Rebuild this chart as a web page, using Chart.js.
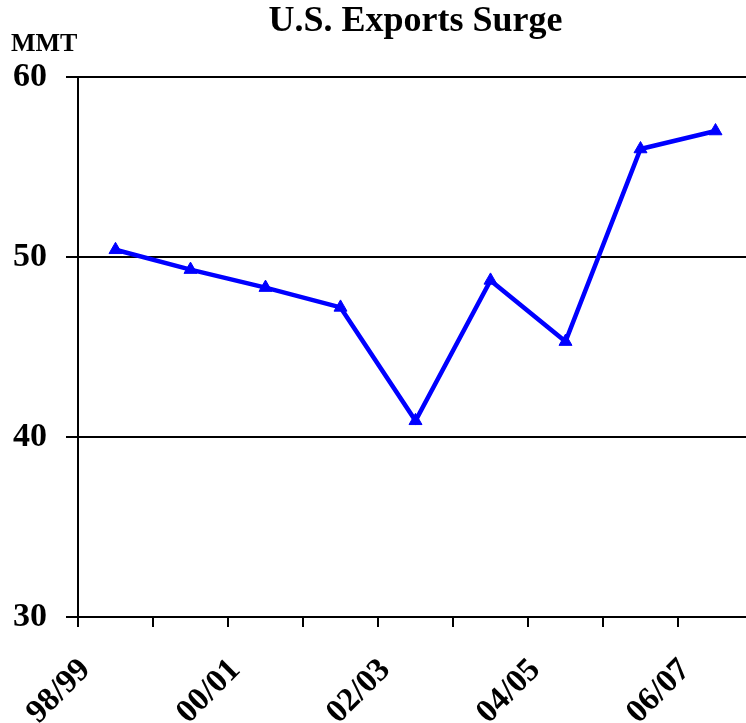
<!DOCTYPE html>
<html>
<head>
<meta charset="utf-8">
<script src="https://cdn.jsdelivr.net/npm/chart.js@4"></script>
<style>
  html, body { margin: 0; padding: 0; background: #fff; overflow: hidden; }
  #wrap { width: 770px; height: 723px; }
</style>
</head>
<body>
<div id="wrap"><canvas id="exports_chart" width="770" height="723"></canvas></div>
<script>
const years = ["98/99", "99/00", "00/01", "01/02", "02/03", "03/04", "04/05", "05/06", "06/07"];
const exportsMmt = [50.4, 49.3, 48.3, 47.2, 40.9, 48.7, 45.3, 56.0, 57.0];
const yTicks = [30, 40, 50, 60];
const chartTitle = "U.S. Exports Surge";
const unitLabel = "MMT";

const serif = "'Liberation Serif', 'Times New Roman', serif";

// title centred over the plot area + unit label top-left
const headerText = {
  id: "headerText",
  afterDraw: (chart) => {
    const ctx = chart.ctx;
    const area = chart.chartArea;
    ctx.save();
    ctx.fillStyle = "#000";
    ctx.font = "bold 36px " + serif;
    ctx.textAlign = "center";
    ctx.textBaseline = "middle";
    ctx.fillText(chartTitle, (area.left + area.right) / 2, 22);
    ctx.font = "bold 26px " + serif;
    ctx.textAlign = "left";
    ctx.textBaseline = "alphabetic";
    ctx.fillText(unitLabel, 11, 51);
    ctx.restore();
  },
};

const drawChart = () => {
  const canvas = document.querySelector("#exports_chart").getContext("2d");
  new Chart(canvas, {
    type: "line",
    data: {
      labels: years,
      datasets: [
        {
          data: exportsMmt,
          borderColor: "#0000ff",
          backgroundColor: "#0000ff",
          borderWidth: 4.5,
          pointStyle: "triangle",
          pointRadius: 7.5,
          pointBorderWidth: 1,
          pointHoverRadius: 7.5,
          tension: 0,
        },
      ],
    },
    options: {
      responsive: false,
      animation: false,
      layout: { padding: { top: 77, right: 17, left: 0, bottom: 0 } },
      plugins: {
        legend: false,
        title: { display: false },
        tooltip: { enabled: false },
      },
      scales: {
        x: {
          offset: true,
          grid: {
            offset: true,
            drawOnChartArea: false,
            color: "#000",
            lineWidth: 2,
            tickLength: 10,
          },
          border: { color: "#000", width: 2 },
          ticks: {
            autoSkip: false,
            minRotation: 45,
            maxRotation: 45,
            padding: 24,
            labelOffset: -30,
            color: "#000",
            font: { family: serif, size: 33, weight: "bold" },
            callback: (val, i) => (i % 2 === 0 ? years[i] : ""),
          },
          afterFit: (s) => { s.height = 106; },
        },
        y: {
          min: yTicks[0],
          max: yTicks[yTicks.length - 1],
          grid: { color: "#000", lineWidth: 2, tickLength: 12 },
          border: { color: "#000", width: 2 },
          ticks: {
            stepSize: 10,
            padding: 19,
            color: "#000",
            font: { family: serif, size: 34, weight: "bold" },
          },
          afterBuildTicks: (s) => { s.ticks = yTicks.map((v) => ({ value: v })); },
          afterFit: (s) => { s.width = 78; },
        },
      },
    },
    plugins: [headerText],
  });
};

drawChart();
</script>
</body>
</html>
